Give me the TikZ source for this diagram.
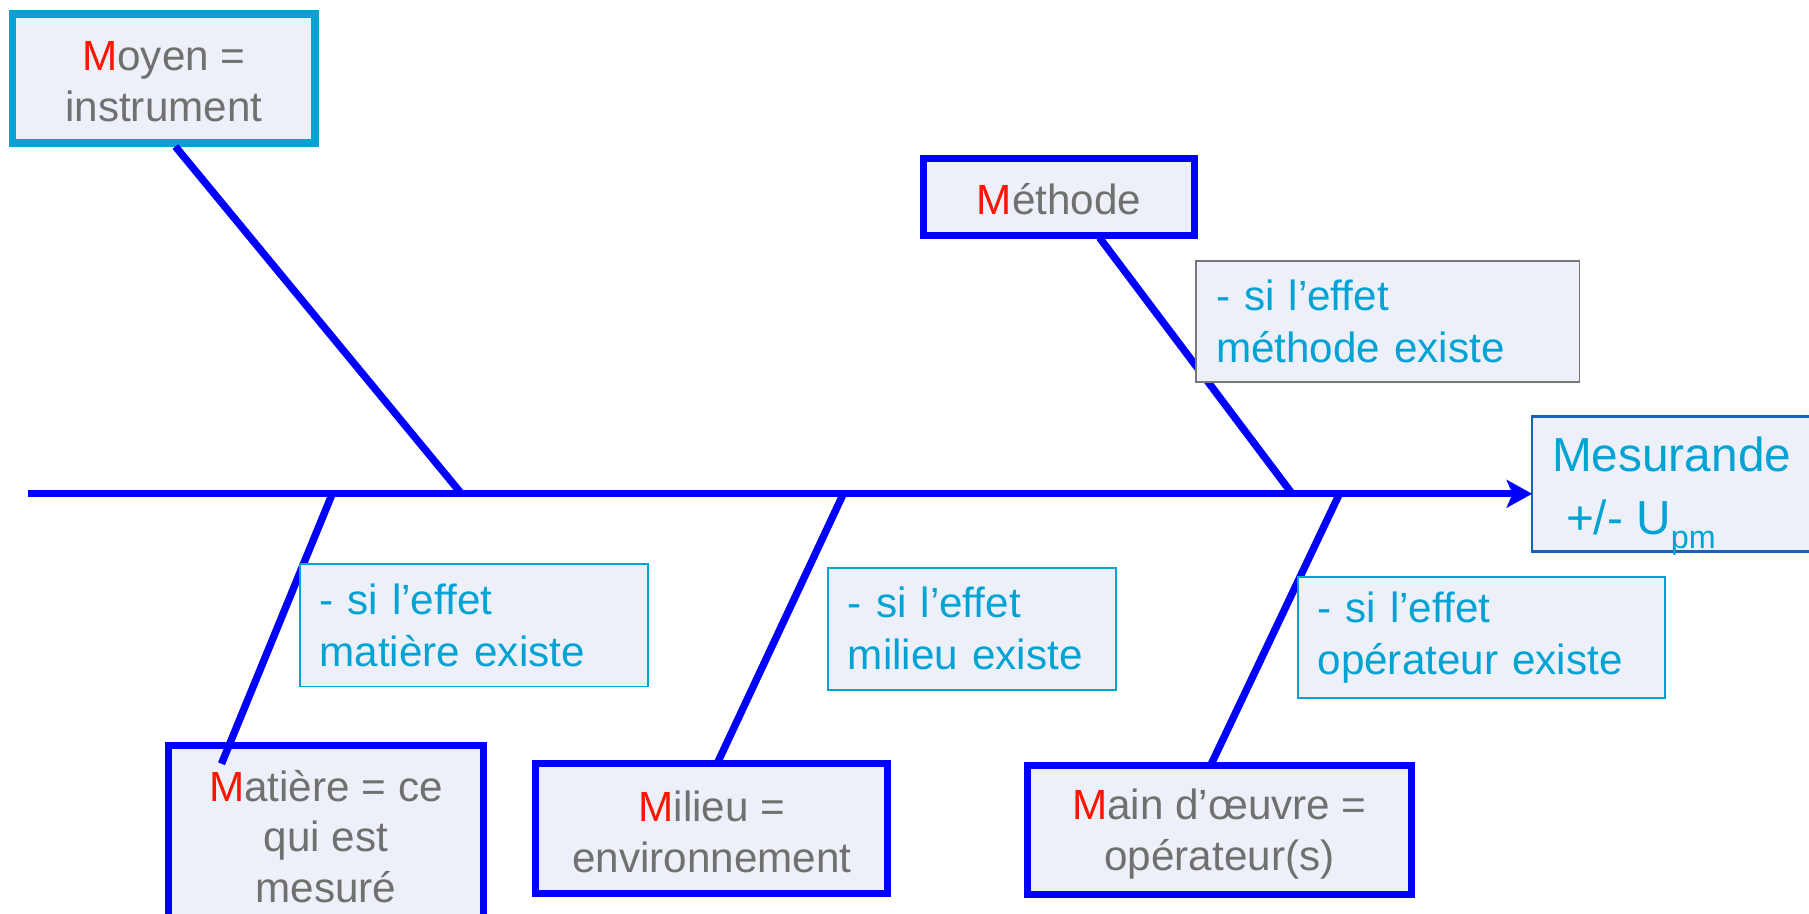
\documentclass[tikz,border=0pt]{standalone}
\usepackage{fontspec}
\setmainfont{Liberation Sans}
\usetikzlibrary{arrows.meta}
\definecolor{boxfill}{RGB}{237,240,248}
\definecolor{mblue}{RGB}{0,0,255}
\definecolor{mcyan}{RGB}{0,163,212}
\definecolor{mgray}{RGB}{112,112,112}
\definecolor{mred}{RGB}{255,20,0}
\definecolor{mesborder}{RGB}{20,100,185}
\definecolor{effgray}{RGB}{120,120,120}
\newcommand{\RM}{\textcolor{mred}{M}}
\tikzset{
  causebox/.style={draw=mblue, line width=3pt, fill=boxfill, outer sep=0pt, inner sep=0pt,
    text=mgray, align=center, font=\fontsize{18.3}{22}\selectfont},
  effbox/.style={draw=mcyan, line width=0.8pt, fill=boxfill, outer sep=0pt, inner ysep=0pt,
    inner xsep=8.5pt, text=mcyan, align=left, font=\fontsize{18.3}{22.5}\selectfont},
  txt/.style={inner sep=0pt, text=mgray, align=center, font=\fontsize{18.3}{22}\selectfont},
  bone/.style={draw=mblue, line width=3.2pt},
}
\begin{document}
\begin{tikzpicture}[x=0.5pt,y=-0.5pt]
\useasboundingbox (0,0) rectangle (1568,792);
% cause boxes
\node[causebox, draw=mcyan, line width=3.3pt, minimum width=131pt, minimum height=56pt] (moyen) at (142,68) {};
\node[txt] (moyentxt) at (142,71) {\RM oyen =\\instrument};
\node[causebox, minimum width=117.5pt, minimum height=33.5pt] (methode) at (918,171) {};
\node[txt] (methodetxt) at (918,173) {\RM éthode};
\node[causebox, minimum width=136.5pt, minimum height=92pt] (matiere) at (282.5,738) {};
\node[txt] (matieretxt) at (282.5,725) {\RM atière = ce\\qui est\\mesuré};
\node[causebox, minimum width=152.5pt, minimum height=56.5pt] (milieu) at (617,718) {};
\node[txt] (milieutxt) at (617,721) {\RM ilieu =\\environnement};
\node[causebox, minimum width=166.5pt, minimum height=56pt] (main) at (1057,719.5) {};
\node[txt] (maintxt) at (1057,723) {\RM ain d’œuvre =\\opérateur(s)};
% effect (result) box
\node[draw=mesborder, line width=1pt, fill=boxfill, outer sep=0pt,
  minimum width=146pt, minimum height=58.5pt] (mes) at (1474,419.5) {};
\node[anchor=west, inner sep=0pt, align=left, text=mcyan, font=\fontsize{20.7}{27}\selectfont]
  (mestxt) at (1345,430) {Mesurande\\\hspace*{6pt}+/- U\raisebox{-0.55ex}{\fontsize{14}{14}\selectfont pm}};
% spine
\coordinate (sp0) at (24,428);
\draw[bone, -{Stealth[length=11pt,width=12pt,inset=2.5pt]}] (sp0) -- (sp0 -| mes.west);
% bones
\coordinate (mo1) at (152,127);  \coordinate (mo2) at (400,428);
\coordinate (me1) at (953,206);  \coordinate (me2) at (1120,428);
\coordinate (ma1) at (288,428);  \coordinate (ma2) at (192,662);
\coordinate (mi1) at (731,428);  \coordinate (mi2) at (622,661);
\coordinate (mn1) at (1161,428); \coordinate (mn2) at (1050,662);
\draw[bone] (mo1) -- (mo2);
\draw[bone] (me1) -- (me2);
\draw[bone] (ma1) -- (ma2);
\draw[bone] (mi1) -- (mi2);
\draw[bone] (mn1) -- (mn2);
% "si l'effet" boxes
\node[effbox, draw=effgray, minimum width=166pt, minimum height=52.5pt, text width=149pt] (emeth) at (1203,278.5) {- si l’effet\\méthode existe};
\node[effbox, minimum width=151pt, minimum height=53pt, text width=134pt] (emat) at (411,542) {- si l’effet\\matière existe};
\node[effbox, minimum width=124.5pt, minimum height=53pt, text width=107.5pt] (emil) at (842.5,545) {- si l’effet\\milieu existe};
\node[effbox, minimum width=159pt, minimum height=52.5pt, text width=142pt] (eop) at (1284,552.5) {- si l’effet\\opérateur existe};
\end{tikzpicture}
\end{document}
